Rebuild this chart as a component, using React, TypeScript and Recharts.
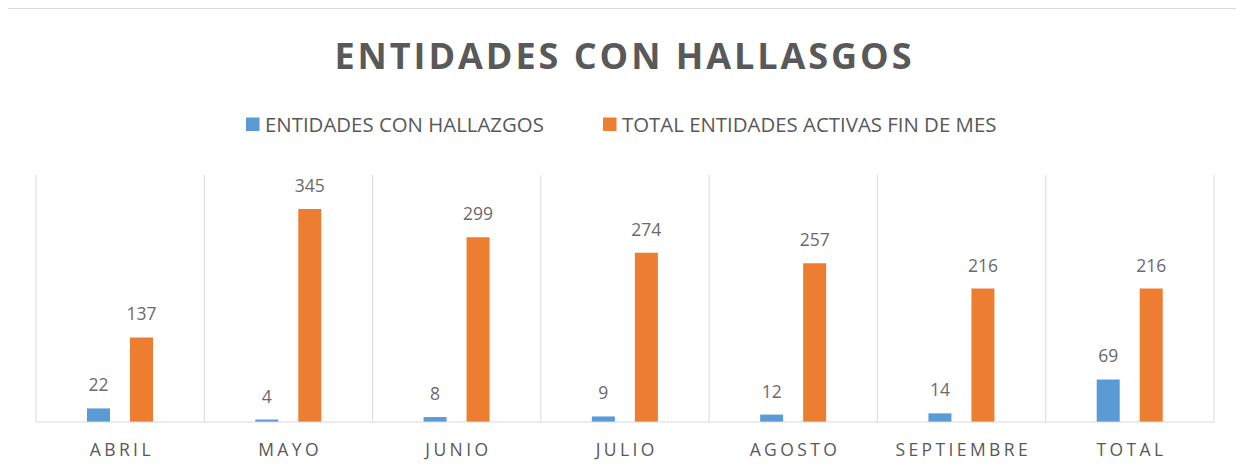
import { BarChart, Bar, XAxis, YAxis, CartesianGrid, LabelList } from 'recharts'

const meses = ['ABRIL', 'MAYO', 'JUNIO', 'JULIO', 'AGOSTO', 'SEPTIEMBRE', 'TOTAL']
const entidadesConHallazgos = [22, 4, 8, 9, 12, 14, 69]
const totalEntidadesActivas = [137, 345, 299, 274, 257, 216, 216]

const serieHallazgos = 'ENTIDADES CON HALLAZGOS'
const serieActivas = 'TOTAL ENTIDADES ACTIVAS FIN DE MES'
const titulo = 'ENTIDADES CON HALLASGOS'

const AZUL = '#5B9BD5'
const NARANJA = '#ED7D31'
const GRIS = '#595959'
const GRIS_ETIQUETA = '#6b6b6b'
const LINEA = '#d9d9d9'
const FUENTE = "'Open Sans', sans-serif"

const data = meses.map((mes, i) => ({
  mes,
  hallazgos: entidadesConHallazgos[i],
  activas: totalEntidadesActivas[i],
}))

const W = 1235
const H = 470

// etiquetas del eje con espaciado entre letras
const MesTick = (props: any) => {
  const { x, y, payload } = props
  return (
    <text
      x={x}
      y={y + 34}
      dx={1.7}
      textAnchor="middle"
      fill={GRIS}
      fontSize={17.5}
      letterSpacing={3.4}
      fontFamily={FUENTE}
    >
      {payload.value}
    </text>
  )
}

export default function App() {
  const leyenda = [
    { name: serieHallazgos, color: AZUL, x: 238 },
    { name: serieActivas, color: NARANJA, x: 595 },
  ]

  return (
    <div
      style={{
        position: 'relative',
        width: W,
        height: H,
        marginLeft: -1,
        border: `1px solid ${LINEA}`,
        background: '#fff',
        fontFamily: FUENTE,
      }}
    >
      {/* Título y leyenda */}
      <svg width={W} height={150} style={{ position: 'absolute', left: 0, top: 0 }}>
        <text
          x={W / 2 - 1}
          y={59.5}
          textAnchor="middle"
          fill={GRIS}
          fontSize={36}
          fontWeight={700}
          letterSpacing={2.95}
          fontFamily={FUENTE}
        >
          {titulo}
        </text>
        {leyenda.map((l) => (
          <g key={l.name}>
            <rect x={l.x} y={108.5} width={13.5} height={13.5} fill={l.color} />
            <text x={l.x + 19} y={122.5} fill={GRIS} fontSize={20.4} fontFamily={FUENTE}>
              {l.name}
            </text>
          </g>
        ))}
      </svg>

      <BarChart
        width={W}
        height={H}
        data={data}
        margin={{ top: 166, right: 29, left: 28, bottom: 17 }}
        barSize={23}
        barGap={20}
      >
        <CartesianGrid
          horizontal={false}
          stroke={LINEA}
          verticalCoordinatesGenerator={({ offset }: any) =>
            Array.from({ length: meses.length + 1 }, (_, i) => offset.left + (i * offset.width) / meses.length)
          }
        />
        <XAxis
          dataKey="mes"
          height={40}
          tickLine={false}
          tickSize={0}
          tickMargin={0}
          axisLine={{ stroke: LINEA }}
          tick={<MesTick />}
          interval={0}
        />
        <YAxis hide domain={[0, 400]} />
        <Bar dataKey="hallazgos" name={serieHallazgos} fill={AZUL} isAnimationActive={false}>
          <LabelList dataKey="hallazgos" position="top" offset={17} fill={GRIS_ETIQUETA} fontSize={17.5} fontFamily={FUENTE} />
        </Bar>
        <Bar dataKey="activas" name={serieActivas} fill={NARANJA} isAnimationActive={false}>
          <LabelList dataKey="activas" position="top" offset={17} fill={GRIS_ETIQUETA} fontSize={17.5} fontFamily={FUENTE} />
        </Bar>
      </BarChart>
    </div>
  )
}
